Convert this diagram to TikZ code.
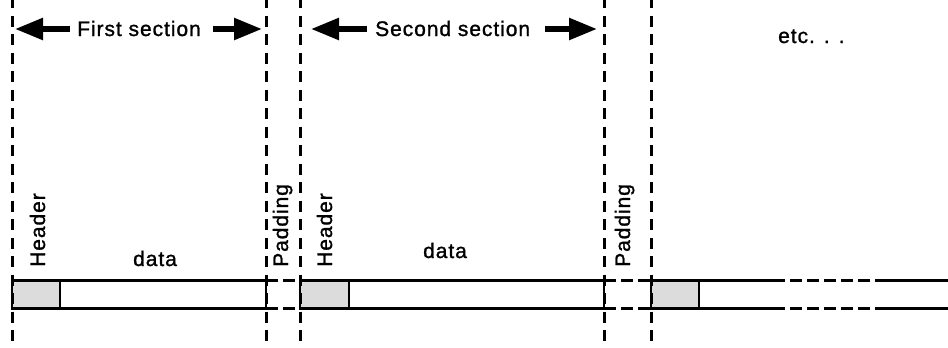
\documentclass[tikz,border=0pt]{standalone}
\usepackage{fontspec}
\setmainfont{Liberation Sans}[LetterSpace=4.5,FakeBold=1.2]
\usetikzlibrary{arrows.meta}
\definecolor{hdrgray}{RGB}{220,220,220}
\begin{document}
\begin{tikzpicture}[x=1pt,y=-1pt,
  lbl/.style={font=\fontsize{21}{25}\selectfont, inner sep=0pt, anchor=base west},
  vlbl/.style={lbl, rotate=90},
  sepline/.style={draw=black, line width=3pt, dash pattern=on 11pt off 7.5pt},
  dimarrow/.style={line width=5.5pt, -{Triangle[length=28pt,width=21pt]}},
  boxbase/.style={draw=black, line width=2pt, minimum height=28pt, inner sep=0pt, outer sep=0pt, anchor=north west},
  hdrbox/.style={boxbase, fill=hdrgray},
  databox/.style={boxbase, fill=white},
  barline/.style={draw=black, line width=2.6pt},
  padline/.style={draw=black, line width=2.6pt, dash pattern=on 12pt off 5pt}
]
\useasboundingbox[fill=white] (0,0) rectangle (948,348);

% bar boxes
\node[hdrbox, minimum width=48pt] (h1) at (12,280.5) {};
\node[databox, minimum width=206pt] (d1) at (60,280.5) {};
\node[hdrbox, minimum width=49pt] (h2) at (300,280.5) {};
\node[databox, minimum width=255pt] (d2) at (349,280.5) {};
\node[hdrbox, minimum width=48pt] (h3) at (651,280.5) {};

% thicker bar outlines
\draw[barline] (h1.north west) -- (d1.north east);
\draw[barline] (h1.south west) -- (d1.south east);
\draw[barline] (h2.north west) -- (d2.north east);
\draw[barline] (h2.south west) -- (d2.south east);
\draw[barline] (h3.north west) -- (h3.north east);
\draw[barline] (h3.south west) -- (h3.south east);

% padding (dashed)
\draw[padline] (d1.north east) -- (h2.north west);
\draw[padline] (d1.south east) -- (h2.south west);
\draw[padline] (d2.north east) -- (h3.north west);
\draw[padline] (d2.south east) -- (h3.south west);

% open-ended third data part
\coordinate (t1) at (773,280.5);
\coordinate (t2) at (877,280.5);
\coordinate (t3) at (948,280.5);
\coordinate (b1) at (773,308.5);
\coordinate (b2) at (877,308.5);
\coordinate (b3) at (948,308.5);
\draw[barline] (h3.north east) -- (t1);
\draw[padline] (t1) -- (t2);
\draw[barline] (t2) -- (t3);
\draw[barline] (h3.south east) -- (b1);
\draw[padline] (b1) -- (b2);
\draw[barline] (b2) -- (b3);

% vertical dashed separators
\foreach \x/\n in {12/v1,266/v2,300/v3,604/v4,651/v5}{
  \coordinate (\n t) at (\x,-3);
  \coordinate (\n b) at (\x,350);
  \draw[sepline] (\n t) -- (\n b);
}

% labels
\node[lbl] (s1) at (77,36) {First section};
\node[lbl] (s2) at (375,36) {Second section};
\node[lbl] (etc) at (778,43) {etc. . .};
\node[vlbl] (lh1) at (45,267) {Header};
\node[lbl] (ld1) at (133,266) {data};
\node[vlbl] (lp1) at (288,267) {Padding};
\node[vlbl] (lh2) at (332,267) {Header};
\node[lbl] (ld2) at (423,258) {data};
\node[vlbl] (lp2) at (630,267) {Padding};

% dimension arrows
\coordinate (a1s) at (70,29);  \coordinate (a1e) at (15,29);
\coordinate (a2s) at (213,29); \coordinate (a2e) at (262,29);
\coordinate (a3s) at (367,29); \coordinate (a3e) at (311,29);
\coordinate (a4s) at (545,29); \coordinate (a4e) at (597,29);
\draw[dimarrow] (a1s) -- (a1e);
\draw[dimarrow] (a2s) -- (a2e);
\draw[dimarrow] (a3s) -- (a3e);
\draw[dimarrow] (a4s) -- (a4e);
\end{tikzpicture}
\end{document}
